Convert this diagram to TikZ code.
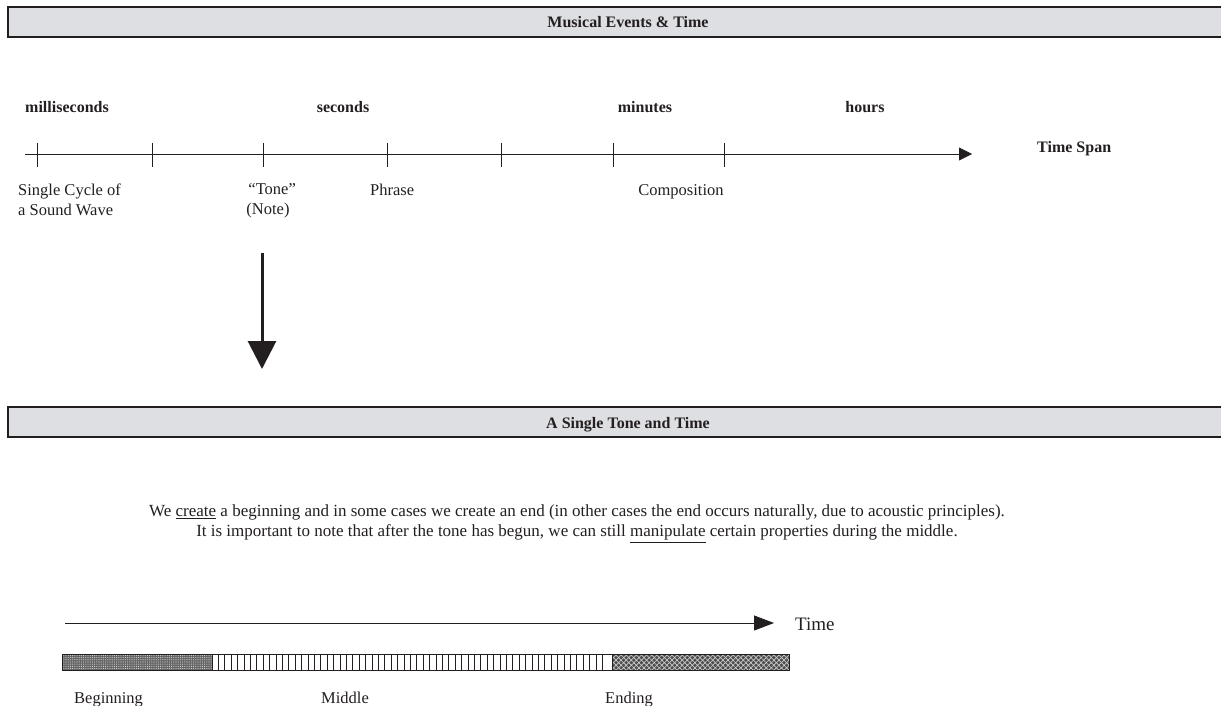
\documentclass[tikz,border=0pt]{standalone}
\usepackage{fontspec}
\setmainfont{Liberation Serif}
\usetikzlibrary{arrows.meta,patterns.meta}

\definecolor{bannerfill}{HTML}{DEDFE3}
\definecolor{ink}{HTML}{231F20}

\begin{document}
\begin{tikzpicture}[x=1pt,y=-1pt,
  banner/.style={draw=ink,line width=2.2pt,fill=bannerfill},
  heading/.style={font=\fontsize{16}{19}\selectfont\bfseries,inner sep=0pt,text=ink},
  body/.style={font=\fontsize{16.5}{20}\selectfont,inner sep=0pt,text=ink},
  para/.style={font=\fontsize{17}{20}\selectfont,inner sep=0pt,text=ink},
  tickmark/.style={draw=ink,line width=0.9pt},
  axisline/.style={draw=ink,line width=0.9pt,-{Triangle[length=13pt,width=13pt]}},
  downarrow/.style={draw=ink,line width=3pt,-{Triangle[length=28pt,width=28pt]}},
  timearrow/.style={draw=ink,line width=0.9pt,-{Triangle[length=20pt,width=15pt]}},
  segment/.style={draw=ink,line width=0.9pt},
  stripe/.style={draw=ink,line width=1pt},
]
\useasboundingbox (0,0) rectangle (1221,706);
\clip (0,0) rectangle (1221,706);

% ---------- upper panel ----------
\draw[banner] (8,7) rectangle (1240,37);
\node[heading,anchor=base] (title1) at (628,28) {Musical Events \& Time};

\node[heading,anchor=base west] (ms)  at (25,113)  {milliseconds};
\node[heading,anchor=base]      (sec) at (343,113) {seconds};
\node[heading,anchor=base]      (min) at (645,113) {minutes};
\node[heading,anchor=base]      (hrs) at (865,113) {hours};
\node[heading,anchor=base west] (span) at (1037,153) {Time Span};

\coordinate (ax0) at (25,154);
\coordinate (ax1) at (972,154);
\draw[axisline] (ax0) -- (ax1);
\foreach \t in {37,152,263,387,501,613,724}
  \draw[tickmark] (\t,143) -- (\t,167);

\node[body,anchor=north west,align=left] (cycle) at (18,183.5)
  {Single Cycle of\\a Sound Wave};
\node[body,anchor=north,align=center] (tone) at (268,183.5)
  {\ \ “Tone”\\(Note)};
\node[body,anchor=base west] (phrase) at (370,195) {Phrase};
\node[body,anchor=base] (comp) at (681,195) {Composition};

\coordinate (dn0) at (262,253);
\coordinate (dn1) at (262,369);
\draw[downarrow] (dn0) -- (dn1);

% ---------- lower panel ----------
\draw[banner] (8,407) rectangle (1240,437);
\node[heading,anchor=base] (title2) at (628,428) {A Single Tone and Time};

\node[para,anchor=north,align=center] (note) at (577,505)
  {We \underline{create} a beginning and in some cases we create an end (in other cases the end occurs naturally, due to acoustic principles).\\
   It is important to note that after the tone has begun, we can still \underline{manipulate} certain properties during the middle.};

\coordinate (tl0) at (65,623);
\coordinate (tl1) at (774,623);
\draw[timearrow] (tl0) -- (tl1);
\node[font=\fontsize{19}{22}\selectfont,text=ink,inner sep=0pt,anchor=west] (time) at (795,624) {Time};

% three phases of the tone
\coordinate (p0) at (62,654);
\coordinate (p1) at (212,670);
\coordinate (p2) at (612,654);
\coordinate (p3) at (789,670);
\fill[black!60] (p0) rectangle (p1);
\fill[pattern={Dots[distance=2.2pt,radius=0.55pt]},pattern color=white!85!black] (p0) rectangle (p1);
\foreach \x in {218.4,224.8,...,608}
  \draw[stripe] (\x,654) -- (\x,670);
\fill[black!70] (p2) rectangle (p3);
\fill[pattern={Lines[angle=45,distance=3.6pt,line width=0.7pt]},pattern color=white!80!black] (p2) rectangle (p3);
\fill[pattern={Lines[angle=-45,distance=3.6pt,line width=0.7pt]},pattern color=white!80!black] (p2) rectangle (p3);
\draw[segment] (p0) rectangle (p3);
\draw[segment] (p1 |- p0) -- (p1);
\draw[segment] (p2) -- (p2 |- p1);

\node[body,anchor=base west] (beg) at (74,703) {Beginning};
\node[body,anchor=base west] (mid) at (321,703) {Middle};
\node[body,anchor=base west] (end) at (605,703) {Ending};
\end{tikzpicture}
\end{document}
